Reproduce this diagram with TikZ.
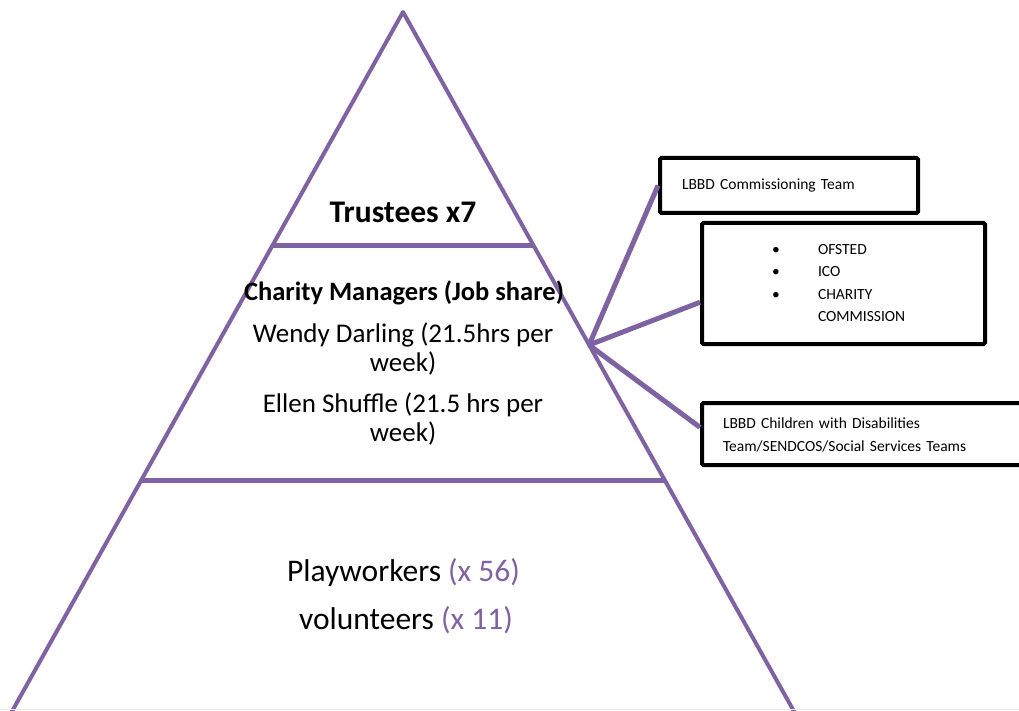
\documentclass[tikz,border=0pt]{standalone}
\usepackage{fontspec}
\setmainfont{Carlito}
\usetikzlibrary{calc}
\definecolor{pur}{HTML}{7E62A1}
\begin{document}
\begin{tikzpicture}[x=1pt,y=-1pt,
  side/.style={draw=pur,line width=4pt,line cap=round,line join=round},
  sep/.style={draw=pur,line width=5pt},
  conn/.style={draw=pur,line width=5pt},
  box/.style={draw=black,line width=4pt,rounded corners=1.5pt,inner ysep=0pt,align=left,
    font=\fontsize{15.5}{22.5}\selectfont},
  mid/.style={align=center,inner sep=0pt,font=\fontsize{27}{28.5}\selectfont}]
\useasboundingbox (0,0) rectangle (1019,711);
\begin{scope}
\clip (0,0) rectangle (1019,711);
% pyramid
\coordinate (apex) at (403,12);
\coordinate (bl) at (-4,740);
\coordinate (br) at (810,740);
\draw[side] (bl) -- (apex) -- (br);
\coordinate (s1l) at (272,246);
\coordinate (s1r) at (534,246);
\coordinate (s2l) at (141,480);
\coordinate (s2r) at (665,480);
\draw[sep] (s1l) -- (s1r);
\draw[sep] (s2l) -- (s2r);
\coordinate (gl) at (0,709.5);
\coordinate (gr) at (1019,709.5);
\draw[draw=black!8,line width=1pt] (gl) -- (gr);
% text
\node[inner sep=0pt,font=\fontsize{31.5}{33}\selectfont\bfseries] (trustees) at (403,212) {Trustees x7};
\node[mid,font=\fontsize{26.5}{28.5}\selectfont\bfseries] (managers) at (404,293) {Charity Managers (Job share)};
\node[mid] (wendy) at (403,349) {Wendy Darling (21.5hrs per\\week)};
\node[mid] (ellen) at (403,419) {Ellen Shuffle (21.5 hrs per\\week)};
\node[inner sep=0pt,font=\fontsize{31.5}{33}\selectfont] (play) at (403.5,572.5) {Playworkers \textcolor{pur}{(x 56)}};
\node[inner sep=0pt,font=\fontsize{31.5}{33}\selectfont] (vol) at (406,620.5) {volunteers \textcolor{pur}{(x 11)}};
% boxes
\node[box,anchor=west,minimum height=55pt,text width=214pt,inner xsep=22pt] (b1) at (658,185.5) {LBBD Commissioning Team};
\node[box,anchor=west,minimum height=121pt,text width=143pt,inner xsep=70pt] (b2) at (700,283.5)
  {\begin{tabular}{@{}p{46pt}@{}l@{}}\textbullet & OFSTED\\ \textbullet & ICO\\ \textbullet & CHARITY\\ & COMMISSION\end{tabular}};
\node[box,anchor=west,minimum height=62pt,text width=360pt,inner xsep=21pt] (b3) at (700,434)
  {\rule{0pt}{13pt}LBBD Children with Disabilities\\Team/SENDCOS/Social Services Teams};
% connectors
\coordinate (o) at (589,345);
\draw[conn] (o) -- (b1.west);
\draw[conn] (o) -- ($(b2.south west)!0.35!(b2.north west)$);
\draw[conn] (o) -- ($(b3.north west)!0.4!(b3.south west)$);
\end{scope}
\end{tikzpicture}
\end{document}
